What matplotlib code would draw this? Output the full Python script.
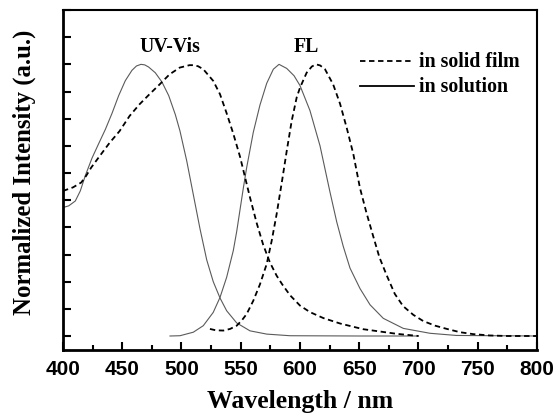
import matplotlib
matplotlib.use("Agg")
import matplotlib.pyplot as plt
from matplotlib.ticker import MultipleLocator, NullFormatter

# Solution absorption (UV-Vis)
sol_abs_x = [400, 404.8, 410.4, 414.6, 418.8, 424.5, 430.1, 435.7, 441.4, 447, 452.6, 458.2, 462, 465.8,
             469, 472.3, 477.9, 483.5, 489.2, 494.8, 498.7, 504.4, 510, 515.6, 521.3, 526.8, 532.5,
             538.1, 546.6, 557.8, 571.9, 591.6, 650, 700]
sol_abs_y = [0.473, 0.479, 0.497, 0.534, 0.59, 0.655, 0.708, 0.76, 0.82, 0.885, 0.94, 0.978, 0.994, 1.0,
             0.998, 0.99, 0.969, 0.935, 0.885, 0.815, 0.755, 0.645, 0.52, 0.395, 0.28, 0.2, 0.14,
             0.093, 0.048, 0.019, 0.007, 0.001, 0.0, 0.0]

# Film absorption (UV-Vis)
film_abs_x = [400, 408.4, 415.4, 419.6, 423.8, 430.9, 439.3, 447.7, 456.2, 464.6, 473, 481.5, 489.9,
              498.5, 506.8, 510, 514, 518.4, 526.8, 532.5, 538.1, 543.7, 549.4, 552.2, 555, 557.8,
              563.5, 569, 574.7, 580.3, 585, 591.6, 600, 608.4, 619.7, 633.8, 653.4, 681.6, 700]
film_abs_y = [0.534, 0.547, 0.565, 0.59, 0.62, 0.662, 0.711, 0.754, 0.81, 0.853, 0.89, 0.926, 0.963,
              0.988, 0.997, 0.997, 0.993, 0.982, 0.939, 0.89, 0.82, 0.745, 0.66, 0.61, 0.56, 0.51,
              0.415, 0.335, 0.27, 0.222, 0.19, 0.15, 0.112, 0.088, 0.066, 0.046, 0.025, 0.008, 0.0]

# Solution fluorescence (FL)
sol_fl_x = [490.3, 498.7, 510, 518.4, 526.8, 532.5, 538.1, 543.7, 546.6, 549.4, 552.2, 555, 560.6,
            566.2, 571.9, 577.5, 582.3, 588.8, 595, 600, 608.4, 616.9, 625.3, 631, 636.5, 642.2,
            650.6, 659.1, 670.3, 687.2, 709.7, 732, 800]
sol_fl_y = [0.0, 0.001, 0.014, 0.038, 0.087, 0.142, 0.216, 0.314, 0.385, 0.465, 0.545, 0.62, 0.75,
            0.85, 0.93, 0.982, 1.0, 0.985, 0.958, 0.922, 0.83, 0.70, 0.53, 0.42, 0.33, 0.25,
            0.175, 0.115, 0.065, 0.028, 0.01, 0.002, 0.0]

# Film fluorescence (FL)
film_fl_x = [524, 529, 535.3, 541, 546.6, 551, 555, 560.6, 566.2, 571.9, 576.1, 580.3, 585, 588.8,
             593, 597.2, 600, 605.6, 610, 613.5, 617, 621.1, 628, 633.8, 639.5, 645, 650.6, 656,
             661.6, 667, 673, 680, 687, 695.6, 704, 714, 724, 735, 746, 760, 775, 800]
film_fl_y = [0.026, 0.021, 0.02, 0.026, 0.038, 0.058, 0.081, 0.13, 0.19, 0.265, 0.35, 0.449, 0.575, 0.681,
             0.792, 0.878, 0.914, 0.969, 0.992, 1.0, 0.996, 0.982, 0.926, 0.855, 0.765, 0.67, 0.545,
             0.455, 0.37, 0.29, 0.225, 0.155, 0.11, 0.078, 0.055, 0.038, 0.026, 0.014, 0.007, 0.002,
             0.0, 0.0]

x_ticks = [400, 450, 500, 550, 600, 650, 700, 750, 800]

fig = plt.figure(figsize=(5.54, 4.14), dpi=100)
ax = fig.add_axes([0.1137, 0.1522, 0.8556, 0.8212])

sol_color = "#5a5a5a"
dash = (0, (3, 2))
ax.plot(sol_abs_x, sol_abs_y, color=sol_color, lw=0.8)
ax.plot(sol_fl_x, sol_fl_y, color=sol_color, lw=0.8)
ax.plot(film_abs_x, film_abs_y, color="black", lw=1.3, ls=dash)
ax.plot(film_fl_x, film_fl_y, color="black", lw=1.3, ls=dash)

# legend drawn manually in axes coords
ax.plot([0.627, 0.74], [0.85, 0.85], transform=ax.transAxes, color="black", lw=1.3,
        ls=dash, clip_on=False)
ax.plot([0.627, 0.74], [0.776, 0.776], transform=ax.transAxes, color="black", lw=1.3, clip_on=False)
serif = ["Liberation Serif", "DejaVu Serif"]
ax.text(0.751, 0.85, "in solid film", transform=ax.transAxes, family=serif, weight="bold",
        fontsize=14.3, va="center", ha="left")
ax.text(0.751, 0.776, "in solution", transform=ax.transAxes, family=serif, weight="bold",
        fontsize=14.3, va="center", ha="left")

ax.text(490.3, 1.066, "UV-Vis", family=serif, weight="bold", fontsize=14.3, ha="center", va="center")
ax.text(605.5, 1.066, "FL", family=serif, weight="bold", fontsize=14.3, ha="center", va="center")

ax.set_xlim(400, 800)
ax.set_ylim(-0.0515, 1.2)
ax.set_xticks(x_ticks)
ax.xaxis.set_minor_locator(MultipleLocator(25))
ax.yaxis.set_major_locator(MultipleLocator(0.1))
ax.yaxis.set_major_formatter(NullFormatter())
ax.tick_params(axis="x", which="major", direction="in", length=6, width=1.5, top=False, pad=6.5)
ax.tick_params(axis="x", which="minor", direction="in", length=3.5, width=1.5, top=False)
ax.tick_params(axis="y", which="major", direction="in", length=6, width=1.5, right=False)
for lab in ax.get_xticklabels():
    lab.set_family(["Liberation Sans", "DejaVu Sans"])
    lab.set_weight("bold")
    lab.set_fontsize(15)

for side in ["left", "bottom"]:
    ax.spines[side].set_linewidth(2.0)
for side in ["top", "right"]:
    ax.spines[side].set_linewidth(1.5)

ax.set_xlabel("Wavelength / nm", family=serif, weight="bold", fontsize=18.5, labelpad=8)
ax.set_ylabel("Normalized Intensity (a.u.)", family=serif, weight="bold", fontsize=17.8)
ax.yaxis.set_label_coords(-0.056, 0.526)

fig.savefig("out.png", dpi=100)
